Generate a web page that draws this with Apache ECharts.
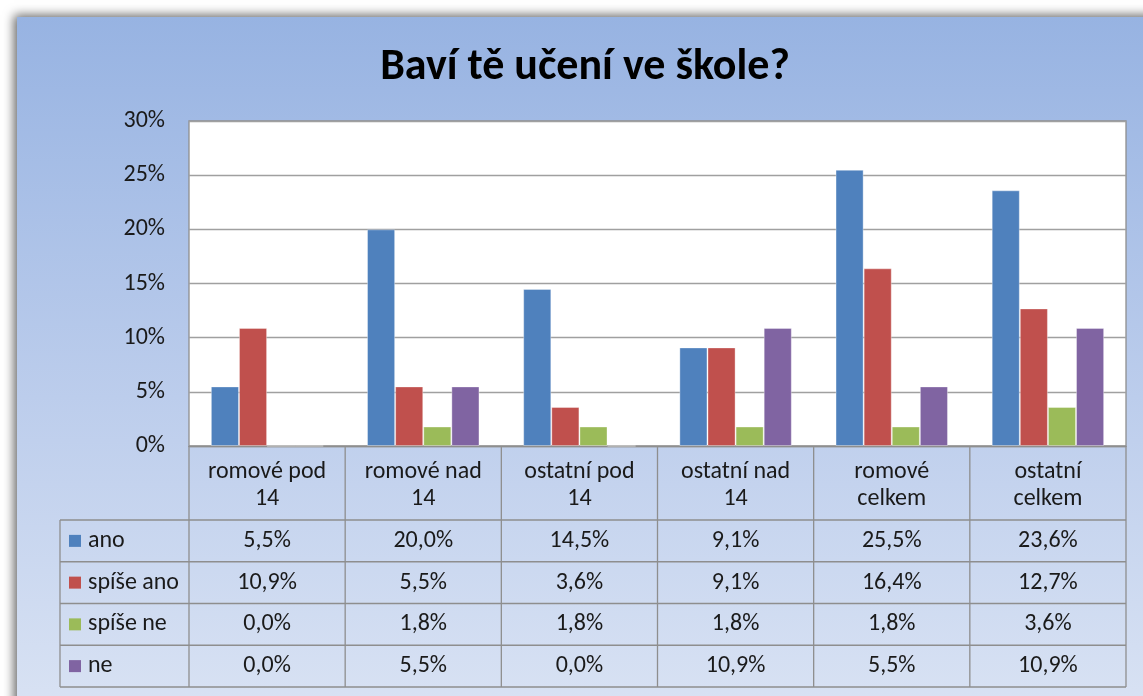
<!DOCTYPE html>
<html lang="cs">
<head>
<meta charset="utf-8">
<title>Baví tě učení ve škole?</title>
<script src="https://cdn.jsdelivr.net/npm/echarts@6/dist/echarts.min.js"></script>
<style>
  html, body { margin: 0; padding: 0; background: #fff; }
  #container { width: 1143px; height: 696px; }
</style>
</head>
<body>
<div id="container"></div>
<script>
// data
var categories = ['romové pod\n14', 'romové nad\n14', 'ostatní pod\n14', 'ostatní nad\n14', 'romové\ncelkem', 'ostatní\ncelkem'];
var seriesNames = ['ano', 'spíše ano', 'spíše ne', 'ne'];
var ano      = [5.5, 20.0, 14.5, 9.1, 25.5, 23.6];
var spiseAno = [10.9, 5.5, 3.6, 9.1, 16.4, 12.7];
var spiseNe  = [0.0, 1.8, 1.8, 1.8, 1.8, 3.6];
var ne       = [0.0, 5.5, 0.0, 10.9, 5.5, 10.9];
var yTicks   = [0, 5, 10, 15, 20, 25, 30];

var colors = ['#4f81bd', '#c0504d', '#9bbb59', '#8064a2'];
var font = 'Carlito, Lato, "Open Sans", sans-serif';
var fs = 24;

function fmt(v) { return v.toFixed(1).replace('.', ',') + '%'; }

var L = 189, R = 1126, T = 121, B = 446;   // plot area
var cw = (R - L) / categories.length;
var headH = 74, rowH = 41.75, legX = 60;
var all = [ano, spiseAno, spiseNe, ne];

var g = [];
// chart frame with gradient + shadow
g.push({
  type: 'rect', z: -10, silent: true,
  shape: { x: 17, y: 17, width: 1200, height: 760 },
  style: {
    fill: new echarts.graphic.LinearGradient(0, 0, 0, 1, [
      { offset: 0, color: '#97b3e2' },
      { offset: 0.5, color: '#bccdec' },
      { offset: 1, color: '#dfe7f5' }
    ]),
    shadowBlur: 10, shadowColor: 'rgba(0,0,0,0.6)', shadowOffsetX: -3, shadowOffsetY: -2
  }
});
// title, centred on the frame rather than the page
g.push({
  type: 'text', x: 585, y: 68,
  style: { text: 'Baví tě učení ve škole?', font: 'bold 44px ' + font, fill: '#000', align: 'center', verticalAlign: 'middle' }
});

var lc = '#8e8e8e';
function hline(x1, x2, y) {
  g.push({ type: 'line', shape: { x1: x1, y1: y, x2: x2, y2: y }, style: { stroke: lc, lineWidth: 1.3 } });
}
function vline(x, y1, y2) {
  g.push({ type: 'line', shape: { x1: x, y1: y1, x2: x, y2: y2 }, style: { stroke: lc, lineWidth: 1.3 } });
}
var tableBottom = B + headH + rowH * all.length;
for (var c = 0; c <= categories.length; c++) vline(L + c * cw, B, tableBottom);
vline(legX, B + headH, tableBottom);
for (var r = 0; r <= all.length; r++) hline(legX, R, B + headH + r * rowH);

all.forEach(function (arr, r) {
  var cy = B + headH + r * rowH + rowH / 2;
  g.push({ type: 'rect', shape: { x: 69, y: cy - 6, width: 12, height: 12 }, style: { fill: colors[r] } });
  g.push({ type: 'text', x: 88, y: cy, style: { text: seriesNames[r], font: fs + 'px ' + font, fill: '#1a1a1a', verticalAlign: 'middle' } });
  arr.forEach(function (v, c) {
    g.push({ type: 'text', x: L + c * cw + cw / 2, y: cy, style: { text: fmt(v), font: fs + 'px ' + font, fill: '#1a1a1a', align: 'center', verticalAlign: 'middle' } });
  });
});

var chart = echarts.init(document.getElementById('container'));
chart.setOption({
  backgroundColor: '#fff',
  animation: false,
  grid: {
    left: L, right: 1143 - R, top: T, bottom: 696 - B,
    show: true, backgroundColor: '#fff', borderColor: '#8e8e8e', borderWidth: 1.3
  },
  xAxis: {
    type: 'category',
    data: categories,
    axisLine: { show: true, lineStyle: { color: '#8e8e8e', width: 1.3 } },
    axisTick: { show: false },
    axisLabel: { interval: 0, margin: 12, lineHeight: 27, fontFamily: font, fontSize: fs, color: '#1a1a1a' }
  },
  yAxis: {
    type: 'value',
    min: yTicks[0], max: yTicks[yTicks.length - 1], interval: yTicks[1] - yTicks[0],
    axisLine: { show: false },
    axisTick: { show: false },
    axisLabel: { formatter: '{value}%', margin: 24, fontFamily: font, fontSize: fs, color: '#1a1a1a' },
    splitLine: { lineStyle: { color: '#a0a0a0', width: 1.3 } }
  },
  series: seriesNames.map(function (name, i) {
    return {
      name: name, type: 'bar', data: all[i],
      barGap: '0%', barCategoryGap: '28%',
      itemStyle: { color: colors[i], borderColor: 'rgba(255,255,255,0.35)', borderWidth: 1 }
    };
  }),
  graphic: g
});
</script>
</body>
</html>
